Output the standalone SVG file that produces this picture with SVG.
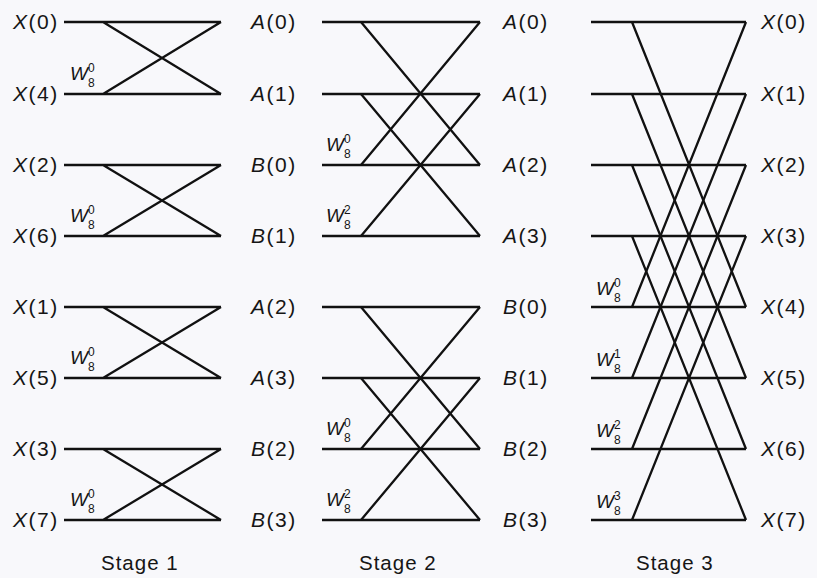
<svg xmlns="http://www.w3.org/2000/svg" width="817" height="578" viewBox="0 0 817 578">
<style>
.bg{fill:#f8f8fb}
.ln{stroke:#111;stroke-width:2.3;fill:none;stroke-linecap:butt}
.lb{font-family:"Liberation Sans",Arial,sans-serif;font-size:21px;letter-spacing:1.5px;fill:#151515}
.it{font-style:italic}
.w{font-family:"Liberation Sans",Arial,sans-serif;font-size:19px;font-style:italic;fill:#151515}
.s{font-family:"Liberation Sans",Arial,sans-serif;font-size:12px;fill:#151515}
.st{font-family:"Liberation Sans",Arial,sans-serif;font-size:20.5px;letter-spacing:1px;fill:#151515}
</style>
<rect class="bg" x="0" y="0" width="817" height="578"/>
<g id="connectors" class="ln">
<path d="M64 22H221M64 94H221M103 22L221 94M103 94L221 22"/>
<path d="M64 165H221M64 236H221M103 165L221 236M103 236L221 165"/>
<path d="M64 307H221M64 378H221M103 307L221 378M103 378L221 307"/>
<path d="M64 449H221M64 520H221M103 449L221 520M103 520L221 449"/>
<path d="M322 22H480M322 94H480M322 165H480M322 236H480"/>
<path d="M361 22L480 165M361 94L480 236M361 165L480 22M361 236L480 94"/>
<path d="M322 307H480M322 378H480M322 449H480M322 520H480"/>
<path d="M361 307L480 449M361 378L480 520M361 449L480 307M361 520L480 378"/>
<path d="M591 22H746M591 94H746M591 165H746M591 236H746M591 307H746M591 378H746M591 449H746M591 520H746"/>
<path d="M632 22L746 307M632 94L746 378M632 165L746 449M632 236L746 520"/>
<path d="M632 307L746 22M632 378L746 94M632 449L746 165M632 520L746 236"/>
</g>
<g id="stage1-inputs" class="lb">
<text x="13" y="29"><tspan class="it">X</tspan>(0)</text>
<text x="13" y="101"><tspan class="it">X</tspan>(4)</text>
<text x="13" y="172"><tspan class="it">X</tspan>(2)</text>
<text x="13" y="243"><tspan class="it">X</tspan>(6)</text>
<text x="13" y="314"><tspan class="it">X</tspan>(1)</text>
<text x="13" y="385"><tspan class="it">X</tspan>(5)</text>
<text x="13" y="456"><tspan class="it">X</tspan>(3)</text>
<text x="13" y="527"><tspan class="it">X</tspan>(7)</text>
</g>
<g id="stage1-outputs" class="lb">
<text x="251" y="29"><tspan class="it">A</tspan>(0)</text>
<text x="251" y="101"><tspan class="it">A</tspan>(1)</text>
<text x="251" y="172"><tspan class="it">B</tspan>(0)</text>
<text x="251" y="243"><tspan class="it">B</tspan>(1)</text>
<text x="251" y="314"><tspan class="it">A</tspan>(2)</text>
<text x="251" y="385"><tspan class="it">A</tspan>(3)</text>
<text x="251" y="456"><tspan class="it">B</tspan>(2)</text>
<text x="251" y="527"><tspan class="it">B</tspan>(3)</text>
</g>
<g id="stage2-outputs" class="lb">
<text x="503" y="29"><tspan class="it">A</tspan>(0)</text>
<text x="503" y="101"><tspan class="it">A</tspan>(1)</text>
<text x="503" y="172"><tspan class="it">A</tspan>(2)</text>
<text x="503" y="243"><tspan class="it">A</tspan>(3)</text>
<text x="503" y="314"><tspan class="it">B</tspan>(0)</text>
<text x="503" y="385"><tspan class="it">B</tspan>(1)</text>
<text x="503" y="456"><tspan class="it">B</tspan>(2)</text>
<text x="503" y="527"><tspan class="it">B</tspan>(3)</text>
</g>
<g id="stage3-outputs" class="lb">
<text x="761" y="29"><tspan class="it">X</tspan>(0)</text>
<text x="761" y="101"><tspan class="it">X</tspan>(1)</text>
<text x="761" y="172"><tspan class="it">X</tspan>(2)</text>
<text x="761" y="243"><tspan class="it">X</tspan>(3)</text>
<text x="761" y="314"><tspan class="it">X</tspan>(4)</text>
<text x="761" y="385"><tspan class="it">X</tspan>(5)</text>
<text x="761" y="456"><tspan class="it">X</tspan>(6)</text>
<text x="761" y="527"><tspan class="it">X</tspan>(7)</text>
</g>
<g id="twiddles-stage1">
<text class="w" x="70" y="80">W</text><text class="s" x="88" y="72">0</text><text class="s" x="88" y="87">8</text>
<text class="w" x="70" y="222">W</text><text class="s" x="88" y="214">0</text><text class="s" x="88" y="229">8</text>
<text class="w" x="70" y="364">W</text><text class="s" x="88" y="356">0</text><text class="s" x="88" y="371">8</text>
<text class="w" x="70" y="506">W</text><text class="s" x="88" y="498">0</text><text class="s" x="88" y="513">8</text>
</g>
<g id="twiddles-stage2">
<text class="w" x="326" y="151">W</text><text class="s" x="344" y="143">0</text><text class="s" x="344" y="158">8</text>
<text class="w" x="326" y="222">W</text><text class="s" x="344" y="214">2</text><text class="s" x="344" y="229">8</text>
<text class="w" x="326" y="435">W</text><text class="s" x="344" y="427">0</text><text class="s" x="344" y="442">8</text>
<text class="w" x="326" y="506">W</text><text class="s" x="344" y="498">2</text><text class="s" x="344" y="513">8</text>
</g>
<g id="twiddles-stage3">
<text class="w" x="596" y="295">W</text><text class="s" x="614" y="287">0</text><text class="s" x="614" y="302">8</text>
<text class="w" x="596" y="366">W</text><text class="s" x="614" y="358">1</text><text class="s" x="614" y="373">8</text>
<text class="w" x="596" y="437">W</text><text class="s" x="614" y="429">2</text><text class="s" x="614" y="444">8</text>
<text class="w" x="596" y="508">W</text><text class="s" x="614" y="500">3</text><text class="s" x="614" y="515">8</text>
</g>
<g id="stage-labels" class="st">
<text x="101" y="570">Stage 1</text>
<text x="359" y="570">Stage 2</text>
<text x="636" y="570">Stage 3</text>
</g>
</svg>
